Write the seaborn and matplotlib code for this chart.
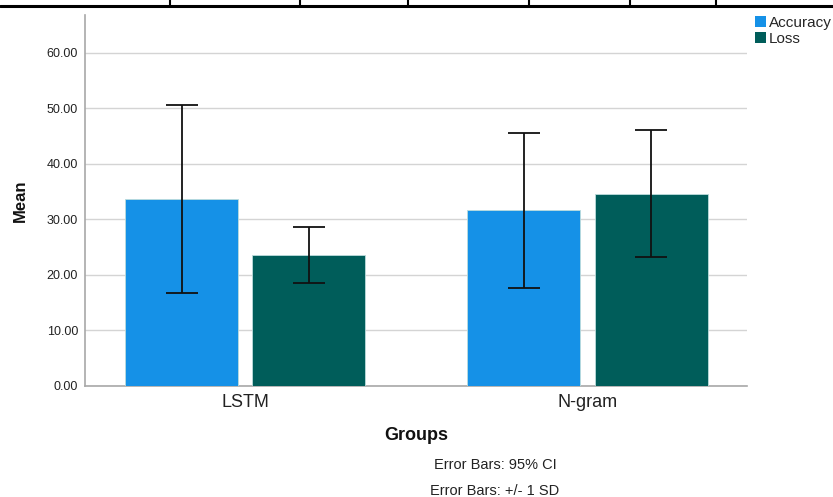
import matplotlib
matplotlib.use("Agg")
import matplotlib.pyplot as plt
import seaborn as sns
import pandas as pd
import numpy as np
from matplotlib.lines import Line2D
from matplotlib.patches import Patch

groups = ["LSTM", "N-gram"]
series = ["Accuracy", "Loss"]
accuracy_mean = [33.6, 31.7]
loss_mean = [23.6, 34.6]
accuracy_low = [16.8, 17.6]
accuracy_high = [50.6, 45.6]
loss_low = [18.6, 23.2]
loss_high = [28.7, 46.1]
yticks = [0, 10, 20, 30, 40, 50, 60]
colors = {"Accuracy": "#1591e7", "Loss": "#005d5a"}

sns.set_theme(style="white")
plt.rcParams["font.family"] = ["Liberation Sans", "DejaVu Sans"]

df = pd.DataFrame({
    "Groups": groups * 2,
    "Series": ["Accuracy"] * 2 + ["Loss"] * 2,
    "Mean": accuracy_mean + loss_mean,
})

fig = plt.figure(figsize=(8.33, 4.97), dpi=100)
ax = fig.add_axes([85 / 833, 1 - 386 / 497, (747 - 85) / 833, (386 - 15) / 497])

sns.barplot(data=df, x="Groups", y="Mean", hue="Series", order=groups,
            hue_order=series, palette=colors, width=0.744, gap=0.113,
            errorbar=None, saturation=1, edgecolor="#bcdcdc", linewidth=0.6,
            legend=False, ax=ax, zorder=3)

lows = {"Accuracy": accuracy_low, "Loss": loss_low}
highs = {"Accuracy": accuracy_high, "Loss": loss_high}
means = {"Accuracy": accuracy_mean, "Loss": loss_mean}
for cont, s in zip(ax.containers, series):
    for i, bar in enumerate(cont):
        xc = bar.get_x() + bar.get_width() / 2
        m = means[s][i]
        ax.errorbar([xc], [m], yerr=[[m - lows[s][i]], [highs[s][i] - m]],
                    fmt="none", ecolor="#111111", elinewidth=1.3,
                    capsize=11.2, capthick=1.3, zorder=4)

ax.set_xlim(-0.468, 1.466)
ax.set_ylim(0, 66.8)
ax.set_yticks(yticks)
ax.set_yticklabels([f"{v:.2f}" for v in yticks], fontsize=9, color="#222222")
ax.tick_params(axis="y", length=0, pad=5)
ax.tick_params(axis="x", length=0, pad=6, labelsize=13, labelcolor="#222222")
ax.yaxis.grid(True, color="#d4d4d4", linewidth=1.0, zorder=0)
ax.set_axisbelow(True)
for sp in ["top", "right"]:
    ax.spines[sp].set_visible(False)
for sp in ["left", "bottom"]:
    ax.spines[sp].set_color("#a8a8a8")
    ax.spines[sp].set_linewidth(1.2)

ax.set_xlabel("Groups", fontsize=13, fontweight="bold", labelpad=11, color="#111111")
ax.set_ylabel("")
fig.text(20 / 833, 1 - 201 / 497, "Mean", rotation=90, fontsize=12,
         fontweight="bold", ha="center", va="center", color="#111111")

handles = [Patch(facecolor=colors[s], edgecolor="none") for s in series]
fig.legend(handles, series, loc="upper left", bbox_to_anchor=(755 / 833, 1 - 16 / 497),
           frameon=False, fontsize=11, handlelength=0.75, handleheight=0.75,
           handletextpad=0.15, labelspacing=0.1, borderaxespad=0, borderpad=0)

fig.text(495 / 833, 1 - 465 / 497, "Error Bars: 95% CI", fontsize=10.5,
         ha="center", va="center", color="#222222")
fig.text(495 / 833, 1 - 491 / 497, "Error Bars: +/- 1 SD", fontsize=10.5,
         ha="center", va="center", color="#222222")

# table border fragment at top
yline = 1 - 6 / 497
fig.add_artist(Line2D([0, 1], [yline, yline], transform=fig.transFigure,
                      color="black", linewidth=2.2))
for xp in [170, 300, 408, 529, 630, 716]:
    fig.add_artist(Line2D([xp / 833, xp / 833], [yline, 1], transform=fig.transFigure,
                          color="black", linewidth=1.5))

fig.savefig("out.png", dpi=100)
